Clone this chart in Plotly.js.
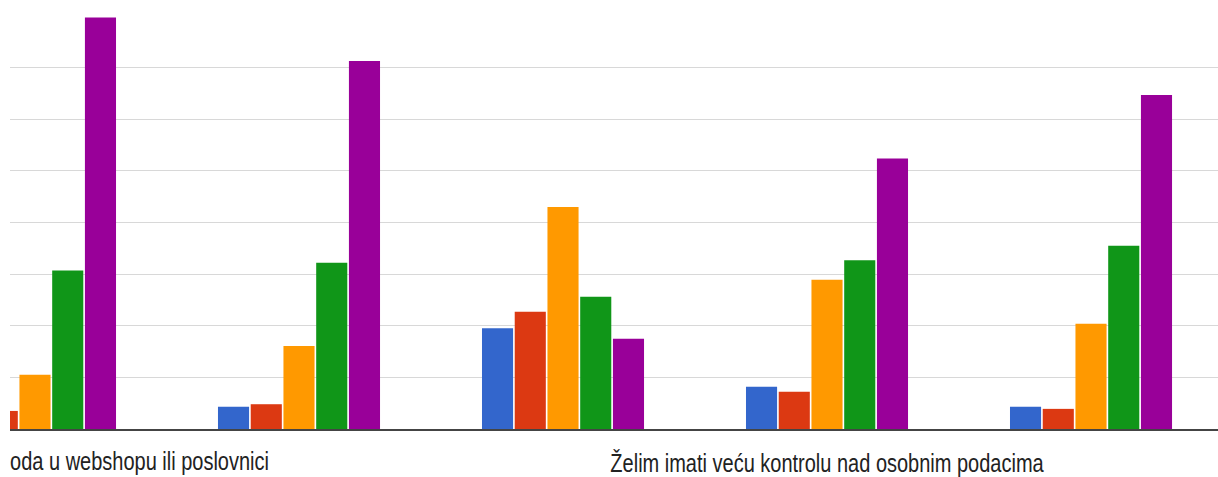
<!DOCTYPE html>
<html>
<head>
<meta charset="utf-8">
<script src="https://cdn.plot.ly/plotly-3.0.1.min.js"></script>
<style>
html,body{margin:0;padding:0;background:#fff;overflow:hidden;}
#chart{width:1218px;height:477px;}
</style>
</head>
<body>
<div id="chart"></div>
<script>
// Categories (groups of answers), left to right
const categories = ["G1", "G2", "G3", "G4", "G5"];
// Tick labels (only some are shown in the original, long labels)
const tickLabelG1 = "oda u webshopu ili poslovnici";
const tickLabelG4 = "Želim imati veću kontrolu nad osobnim podacima";

// Series values (gridline step = 10)
const series1 = [3.0, 4.3, 19.5, 8.2, 4.3];    // blue
const series2 = [3.5, 4.8, 22.7, 7.2, 3.9];    // red
const series3 = [10.5, 16.1, 43.0, 28.9, 20.4]; // orange
const series4 = [30.7, 32.2, 25.6, 32.7, 35.5]; // green
const series5 = [79.7, 71.3, 17.5, 52.4, 64.7]; // purple
const seriesNames = ["1", "2", "3", "4", "5"];
const colors = ["#3366cc", "#dc3912", "#ff9900", "#109618", "#990099"];

const allSeries = [series1, series2, series3, series4, series5];
const traces = allSeries.map((vals, i) => ({
  type: "bar",
  x: categories,
  y: vals,
  name: seriesNames[i],
  marker: {color: colors[i], line: {width: 0}},
  hoverinfo: "y"
}));

const font = "'Liberation Sans', Arial, sans-serif";

const layout = {
  width: 1218,
  height: 477,
  margin: {l: 10, r: 0, t: 16, b: 48},
  paper_bgcolor: "#ffffff",
  plot_bgcolor: "#ffffff",
  showlegend: false,
  barmode: "group",
  bargap: 0.38,
  bargroupgap: 0.05,
  xaxis: {
    type: "category",
    range: [-0.0947, 4.481],
    tickmode: "array",
    tickvals: ["G4"],
    ticktext: [tickLabelG4],
    ticks: "",
    showgrid: false,
    showline: true,
    linecolor: "#444444",
    linewidth: 2,
    zeroline: false,
    tickfont: {family: font, size: 20, color: "#222222"},
    ticklabelstandoff: 15
  },
  yaxis: {
    range: [0, 80],
    dtick: 10,
    showticklabels: false,
    ticks: "",
    showgrid: true,
    gridcolor: "#d8d8d8",
    gridwidth: 1,
    zeroline: false,
    showline: false
  },
  annotations: [{
    xref: "paper", yref: "paper",
    x: 0, y: 0,
    xanchor: "left", yanchor: "top",
    xshift: -2,
    yshift: -19,
    text: tickLabelG1,
    showarrow: false,
    font: {family: font, size: 20, color: "#222222"}
  }]
};

function stretchText(t, sy) {
  const bb = t.getBBox();
  const cx = bb.x + bb.width / 2, cy = bb.y + bb.height / 2;
  const prev = t.getAttribute("transform") || "";
  t.setAttribute("transform",
    prev + " translate(" + cx + "," + cy + ") scale(1," + sy + ") translate(" + (-cx) + "," + (-cy) + ")");
}

Plotly.newPlot("chart", traces, layout, {staticPlot: true, displayModeBar: false}).then(gd => {
  gd.querySelectorAll(".xtick text, .annotation-text").forEach(t => stretchText(t, 1.25));
});
</script>
</body>
</html>
